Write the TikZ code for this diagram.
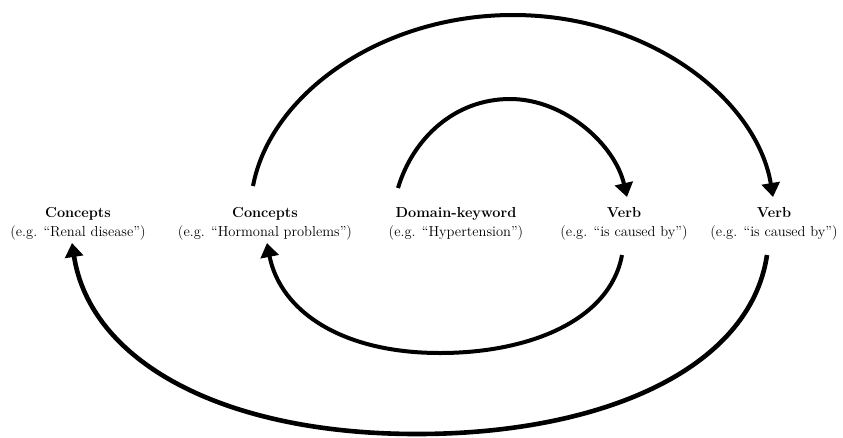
\documentclass[tikz,border=0pt]{standalone}
\usetikzlibrary{arrows.meta}
\begin{document}
\begin{tikzpicture}[x=1pt,y=-1pt,
  lbl/.style={align=center,inner sep=0pt,font=\fontsize{14.5}{19}\selectfont},
  arc/.style={line width=4pt,-{Triangle[length=14pt,width=18pt]}},
  bigarc/.style={line width=4.6pt,-{Triangle[length=14pt,width=18pt]}}]
\useasboundingbox (0,0) rectangle (843,437);
\node[lbl] (c1) at (78,224) {\textbf{Concepts}\\(e.g. ``Renal disease'')};
\node[lbl] (c2) at (265,224) {\textbf{Concepts}\\(e.g. ``Hormonal problems'')};
\node[lbl] (dk) at (456,224) {\textbf{Domain-keyword}\\(e.g. ``Hypertension'')};
\node[lbl] (v1) at (624,224) {\textbf{Verb}\\(e.g. ``is caused by'')};
\node[lbl] (v2) at (774,224) {\textbf{Verb}\\(e.g. ``is caused by'')};
% free ends of the arcs
\coordinate (dkTop) at (398,188);
\coordinate (v1In) at (627,197);
\coordinate (c2Top) at (253,186);
\coordinate (v2In) at (773,197);
\coordinate (v1Bot) at (622,255);
\coordinate (c2In) at (267,243);
\coordinate (v2Bot) at (767,255);
\coordinate (c1In) at (72,243);
% inner top: Domain-keyword -> Verb
\draw[arc] (dkTop) .. controls (413,138) and (455,99) .. (510,99)
  .. controls (565,99) and (615,145) .. (v1In);
% outer top: Concepts -> Verb
\draw[arc] (c2Top) .. controls (270,95) and (380,15) .. (513,15)
  .. controls (650,15) and (757,100) .. (v2In);
% inner bottom: Verb -> Concepts
\draw[arc] (v1Bot) .. controls (610,320) and (530,353) .. (440,353)
  .. controls (340,353) and (280,310) .. (c2In);
% outer bottom: Verb -> Concepts
\draw[bigarc] (v2Bot) .. controls (750,370) and (600,434) .. (417,434)
  .. controls (220,434) and (90,360) .. (c1In);
\end{tikzpicture}
\end{document}
